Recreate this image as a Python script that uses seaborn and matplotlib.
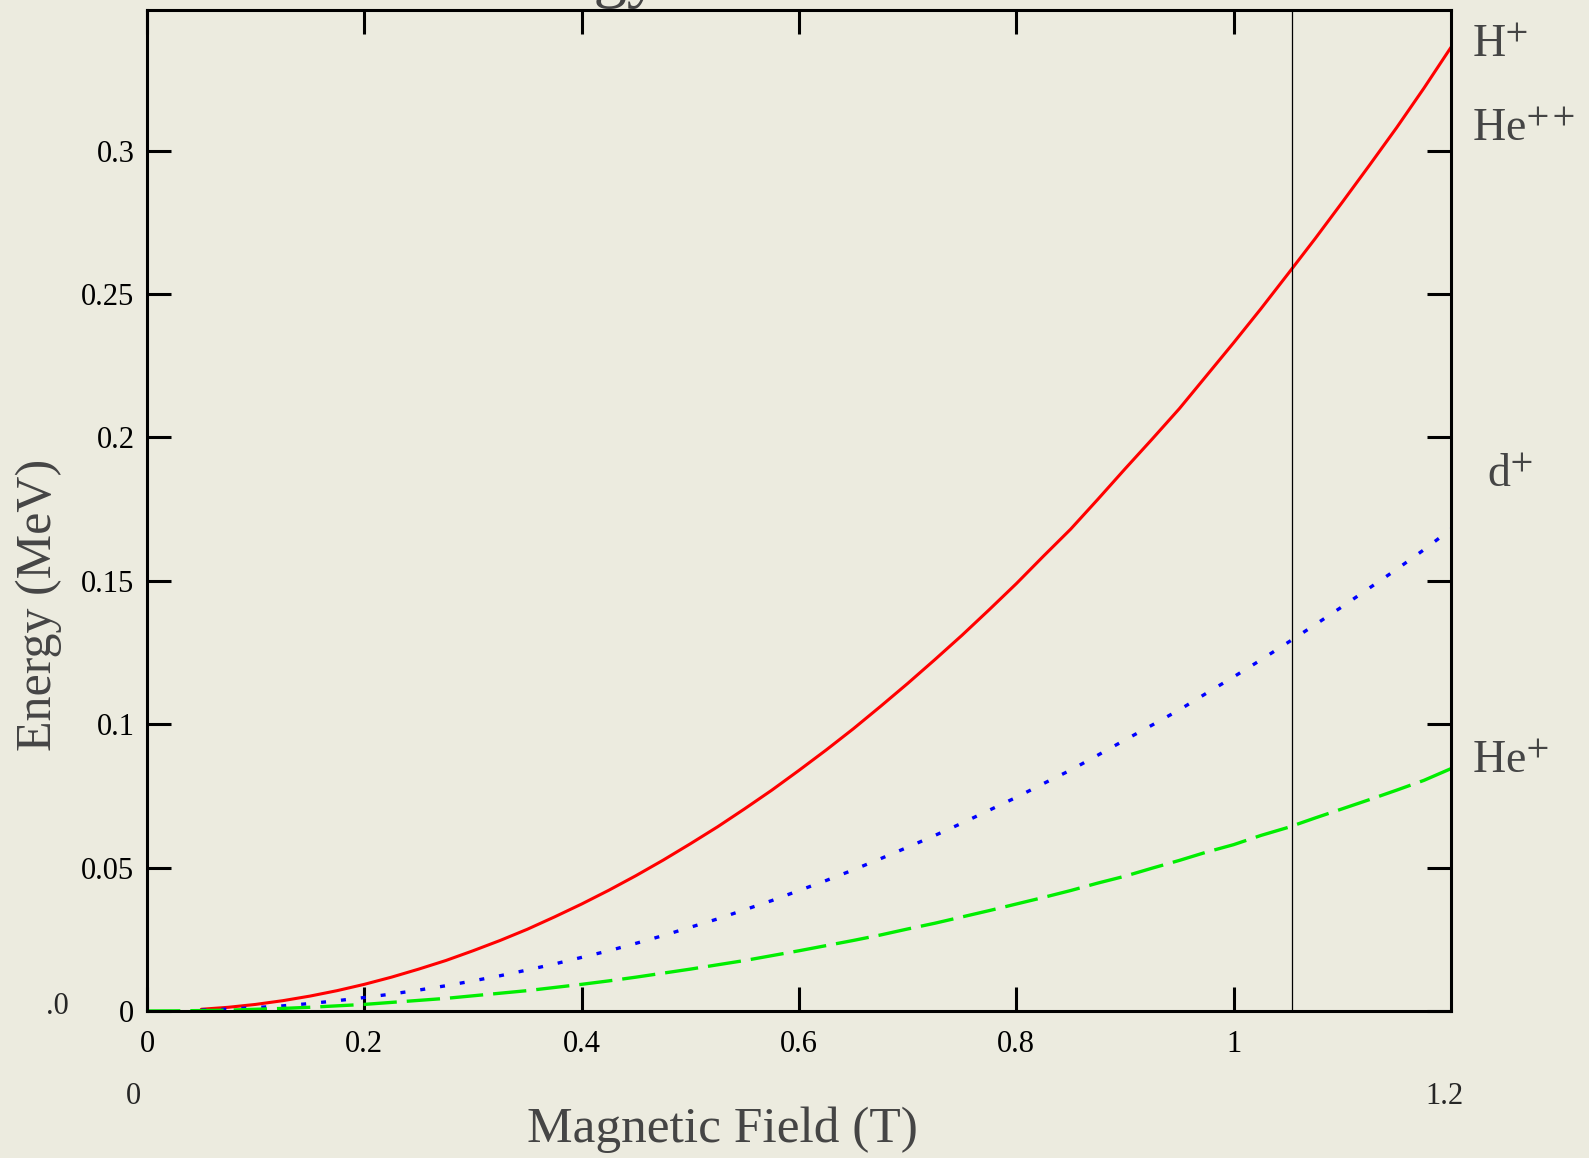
import numpy as np
import matplotlib.pyplot as plt
import pandas as pd
import seaborn as sns

# campo magnetico (T)
campo = [0.0, 0.025, 0.05, 0.075, 0.1, 0.125, 0.15, 0.175, 0.2, 0.225, 0.25, 0.275,
         0.3, 0.325, 0.35, 0.375, 0.4, 0.425, 0.45, 0.475, 0.5, 0.525, 0.55, 0.575,
         0.6, 0.625, 0.65, 0.675, 0.7, 0.725, 0.75, 0.775, 0.8, 0.825, 0.85, 0.875,
         0.9, 0.925, 0.95, 0.975, 1.0, 1.025, 1.05, 1.075, 1.1, 1.125, 1.15, 1.175, 1.2]

# energia (MeV)
e_h = [None, None, 0.0006, 0.0013, 0.0023, 0.0036, 0.0052, 0.0071, 0.0093, 0.0118,
       0.0146, 0.0176, 0.021, 0.0246, 0.0285, 0.0328, 0.0373, 0.0421, 0.0472, 0.0526,
       0.0583, 0.0642, 0.0705, 0.077, 0.0839, 0.091, 0.0984, 0.1062, 0.1142, 0.1225,
       0.131, 0.1399, 0.149, 0.1586, 0.168, 0.1784, 0.189, 0.1994, 0.210, 0.2215,
       0.233, 0.2448, 0.257, 0.2693, 0.282, 0.2949, 0.308, 0.3217, 0.336]
e_d = [None, None, 0.0003, 0.00065, 0.0012, 0.0018, 0.0026, 0.0036, 0.0047, 0.0059,
       0.0073, 0.0088, 0.0105, 0.0123, 0.0143, 0.0164, 0.0187, 0.021, 0.0236, 0.0263,
       0.0292, 0.0321, 0.0353, 0.0385, 0.042, 0.0455, 0.0492, 0.0531, 0.0571, 0.0612,
       0.0655, 0.07, 0.0745, 0.0793, 0.084, 0.0892, 0.0945, 0.0997, 0.105, 0.1108,
       0.1165, 0.1224, 0.1285, 0.1347, 0.141, 0.1475, 0.154, 0.1608, 0.168]
e_he = [0.0, 0.00004, 0.00015, 0.0003, 0.0006, 0.0009, 0.0013, 0.0018, 0.0023, 0.003,
        0.0037, 0.0044, 0.0053, 0.0062, 0.0071, 0.0082, 0.0093, 0.0105, 0.0118, 0.0132,
        0.0146, 0.0161, 0.0176, 0.0193, 0.021, 0.0228, 0.0246, 0.0265, 0.0286, 0.0306,
        0.0328, 0.035, 0.0373, 0.0396, 0.042, 0.0446, 0.047, 0.0498, 0.0525, 0.0554,
        0.058, 0.0612, 0.064, 0.0673, 0.0705, 0.0737, 0.077, 0.0804, 0.0845]

marcador_b = 1.054
rotulos_dir = ['H$^{+}$', 'He$^{++}$', 'd$^{+}$', 'He$^{+}$']

fundo = '#ECEBDF'
cinza = '#454545'

sns.set_style('ticks')
plt.rcParams['font.family'] = ['Liberation Serif', 'DejaVu Serif']
plt.rcParams['mathtext.fontset'] = 'stix'

df = pd.DataFrame({'B': campo, 'H': e_h, 'd': e_d, 'He': e_he}).astype(float)

W, H = 1589, 1158
fig = plt.figure(figsize=(15.89, 11.58), dpi=100, facecolor=fundo)
ax = fig.add_axes([147/W, 1-1011/H, 1304/W, 1001/H])
ax.set_facecolor(fundo)

sns.lineplot(data=df, x='B', y='H', ax=ax, color='#FF0000', lw=2.2)
sns.lineplot(data=df, x='B', y='d', ax=ax, color='#0000FF', lw=2.4)
ax.lines[-1].set_dashes([1.5, 4.5])
sns.lineplot(data=df, x='B', y='He', ax=ax, color='#00EE00', lw=2.4)
ax.lines[-1].set_dashes([10, 3])

ax.axvline(marcador_b, color='black', lw=0.9)

ax.set_xlim(0, 1.2)
ax.set_ylim(0, 0.349)
ax.set_xticks([0, 0.2, 0.4, 0.6, 0.8, 1.0])
ax.set_xticklabels(['0', '0.2', '0.4', '0.6', '0.8', '1'])
ax.set_yticks([0, 0.05, 0.1, 0.15, 0.2, 0.25, 0.3])
ax.set_yticklabels(['0', '0.05', '0.1', '0.15', '0.2', '0.25', '0.3'])
ax.tick_params(direction='in', length=17, width=2.2, top=True, right=True,
               labelsize=22, colors='black')
ax.tick_params(axis='x', pad=14)
ax.tick_params(axis='y', pad=9)
for s in ax.spines.values():
    s.set_linewidth(2.2)
    s.set_color('black')
ax.set_xlabel('')
ax.set_ylabel('')

# rotulos dos eixos
fig.text(722/W, 1-1130/H, 'Magnetic Field (T)', ha='center', va='center',
         fontsize=37, color=cinza)
fig.text(39/W, 1-605/H, 'Energy (MeV)', ha='center', va='center',
         rotation=90, fontsize=36, color=cinza)
# titulo cortado no topo
fig.text(660/W, 1+5/H, 'Energy', ha='right', va='baseline',
         fontsize=48, color=cinza)

# rotulos de especies na direita
pos_dir = [(1472, 46), (1472, 130), (1487, 476), (1472, 762)]
for txt, (px, py) in zip(rotulos_dir, pos_dir):
    fig.text(px/W, 1-py/H, txt, ha='left', va='center', fontsize=33, color=cinza)

# limites extras abaixo do eixo
fig.text(133/W, 1-1097/H, '0', ha='center', va='center', fontsize=22)
fig.text(1444/W, 1-1097/H, '1.2', ha='center', va='center', fontsize=22)
fig.text(57/W, 1-1007/H, '.0', ha='center', va='center', fontsize=22)

fig.savefig('out.png', dpi=100, facecolor=fundo)
